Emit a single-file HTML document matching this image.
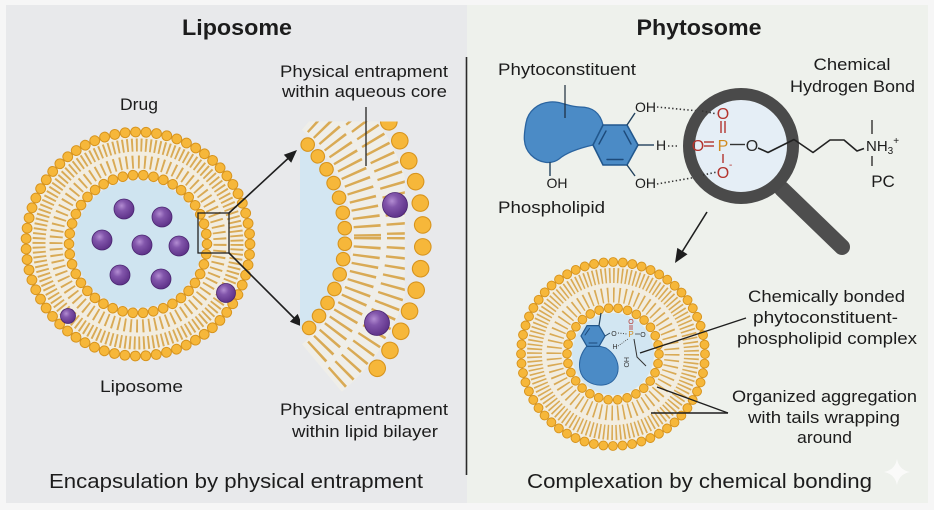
<!DOCTYPE html>
<html><head><meta charset="utf-8"><style>
html,body{margin:0;padding:0;background:#f6f6f6;}
svg{display:block;}
text{font-family:"Liberation Sans",Arial,sans-serif;fill:#1c1c1c;}
</style></head><body>
<svg width="934" height="510" viewBox="0 0 934 510" xmlns="http://www.w3.org/2000/svg">
<defs>
<radialGradient id="pg" cx="0.38" cy="0.34" r="0.72">
<stop offset="0" stop-color="#b38dd2"/>
<stop offset="0.35" stop-color="#8256ab"/>
<stop offset="1" stop-color="#5a2e85"/>
</radialGradient>
<clipPath id="band"><rect x="250" y="121.5" width="200" height="270"/></clipPath>
<clipPath id="wedge"><path d="M212,237 L404.8,7.2 L404.8,466.8 Z"/></clipPath>
</defs>

<!-- backgrounds -->
<rect x="0" y="0" width="934" height="510" fill="#f6f6f6"/>
<rect x="6" y="5" width="461" height="498" fill="#e8e9eb"/>
<rect x="467" y="5" width="461" height="498" fill="#eef1ec"/>
<line x1="466.5" y1="57" x2="466.5" y2="475" stroke="#2a2a2a" stroke-width="1.6"/>

<!-- titles -->
<text x="237" y="35" font-size="22" font-weight="bold" text-anchor="middle" textLength="110" lengthAdjust="spacingAndGlyphs">Liposome</text>
<text x="699" y="35" font-size="22" font-weight="bold" text-anchor="middle" textLength="125" lengthAdjust="spacingAndGlyphs">Phytosome</text>

<!-- ===== Main liposome ===== -->
<g>
<circle cx="138" cy="244" r="90.5" fill="none" stroke="#f2ede0" stroke-width="43"/>
<circle cx="138" cy="244" r="99" fill="none" stroke="#d9aa55" stroke-width="13" stroke-dasharray="1.9 2.742"/>
<circle cx="138" cy="244" r="82" fill="none" stroke="#d9aa55" stroke-width="13" stroke-dasharray="1.9 4.23"/>
<circle cx="138" cy="244" r="64" fill="#cfe4f0"/>
<circle cx="138" cy="244" r="112" fill="none" stroke="#d7941e" stroke-width="10.8" stroke-linecap="round" stroke-dasharray="0.01 10.493"/>
<circle cx="138" cy="244" r="112" fill="none" stroke="#f6b73a" stroke-width="8.8" stroke-linecap="round" stroke-dasharray="0.01 10.493"/>
<circle cx="138" cy="244" r="69" fill="none" stroke="#d7941e" stroke-width="10.6" stroke-linecap="round" stroke-dasharray="0.01 10.313"/>
<circle cx="138" cy="244" r="69" fill="none" stroke="#f6b73a" stroke-width="8.6" stroke-linecap="round" stroke-dasharray="0.01 10.313"/>
<g fill="url(#pg)" stroke="#4a2570" stroke-width="0.8">
<circle cx="124" cy="209" r="10"/>
<circle cx="162" cy="217" r="10"/>
<circle cx="102" cy="240" r="10"/>
<circle cx="142" cy="245" r="10"/>
<circle cx="179" cy="246" r="10"/>
<circle cx="120" cy="275" r="10"/>
<circle cx="161" cy="279" r="10"/>
<circle cx="226" cy="293" r="9.5"/>
<circle cx="68" cy="316" r="7.5"/>
</g>
<rect x="198" y="213" width="31" height="40" fill="none" stroke="#222" stroke-width="1.3"/>
</g>

<!-- arrows -->
<line x1="229" y1="213" x2="288" y2="158.5" stroke="#1e1e1e" stroke-width="1.6"/>
<polygon points="297,150 291.2,162.8 283.8,154.8" fill="#1e1e1e"/>
<line x1="229" y1="253" x2="294" y2="318" stroke="#1e1e1e" stroke-width="1.6"/>
<polygon points="303,327 289.9,321.7 297.7,313.9" fill="#1e1e1e"/>

<!-- ===== Zoomed bilayer ===== -->
<path d="M300,146 L307.7,144.6 A133,133 0 0 1 309.1,327.9 L300,329 Z" fill="#d3e6f2"/>
<g clip-path="url(#band)">
<g clip-path="url(#wedge)">
<circle cx="212" cy="237" r="171" fill="none" stroke="#efeee9" stroke-width="62"/>
<circle cx="212" cy="237" r="155.5" fill="none" stroke="#d9aa55" stroke-width="27" stroke-dasharray="2.5 6.6"/>
<circle cx="212" cy="237" r="188" fill="none" stroke="#d9aa55" stroke-width="26" stroke-dasharray="2.5 7.3"/>
</g>
<path d="M307.7,144.6 A133,133 0 0 1 309.1,327.9" fill="none" stroke="#d7941e" stroke-width="14.6" stroke-linecap="round" stroke-dasharray="0.01 15.54"/>
<path d="M307.7,144.6 A133,133 0 0 1 309.1,327.9" fill="none" stroke="#f6b73a" stroke-width="12.4" stroke-linecap="round" stroke-dasharray="0.01 15.54"/>
<path d="M388.8,121.8 A211,211 0 0 1 362.8,384.6" fill="none" stroke="#d7941e" stroke-width="17.6" stroke-linecap="round" stroke-dasharray="0.01 21.94"/>
<path d="M388.8,121.8 A211,211 0 0 1 362.8,384.6" fill="none" stroke="#f6b73a" stroke-width="15.4" stroke-linecap="round" stroke-dasharray="0.01 21.94"/>
</g>
<g fill="url(#pg)" stroke="#4a2570" stroke-width="0.8">
<circle cx="395" cy="205" r="12.5"/>
<circle cx="377" cy="323" r="12.5"/>
</g>
<line x1="366" y1="107" x2="366" y2="166" stroke="#222" stroke-width="1.3"/>

<!-- left labels -->
<text x="139" y="110" font-size="17" text-anchor="middle" textLength="38" lengthAdjust="spacingAndGlyphs">Drug</text>
<text x="364" y="77" font-size="17" text-anchor="middle" textLength="168" lengthAdjust="spacingAndGlyphs">Physical entrapment</text>
<text x="364.5" y="97" font-size="17" text-anchor="middle" textLength="165" lengthAdjust="spacingAndGlyphs">within aqueous core</text>
<text x="141.5" y="392" font-size="17" text-anchor="middle" textLength="83" lengthAdjust="spacingAndGlyphs">Liposome</text>
<text x="364" y="415" font-size="17" text-anchor="middle" textLength="168" lengthAdjust="spacingAndGlyphs">Physical entrapment</text>
<text x="365" y="437" font-size="17" text-anchor="middle" textLength="146" lengthAdjust="spacingAndGlyphs">within lipid bilayer</text>
<text x="236" y="488" font-size="20.5" text-anchor="middle" textLength="374" lengthAdjust="spacingAndGlyphs">Encapsulation by physical entrapment</text>

<!-- ===== Phytoconstituent molecule ===== -->
<path d="M603,125 C600,112 592,107 580,107 C568,107 561,101 550,102 C538,103 528,111 526,123 C524,134 522,146 531,155 C539,163 551,165 559,159 C567,152 580,148 593,145 Z" fill="#4b8bc6" stroke="#2a64a0" stroke-width="1.3"/>
<line x1="565" y1="85" x2="565" y2="118" stroke="#1a2a3a" stroke-width="1.2"/>
<polygon points="593,145 603,125 627,125 638,145 627,165 603,165" fill="#4b8bc6" stroke="#22588e" stroke-width="1.6"/>
<g stroke="#1d4a7a" stroke-width="1.4" stroke-linecap="round">
<line x1="599" y1="144" x2="606" y2="131"/>
<line x1="624" y1="131" x2="631" y2="144"/>
<line x1="607" y1="159.5" x2="623" y2="159.5"/>
</g>
<g stroke="#22425e" stroke-width="1.4">
<line x1="627" y1="125" x2="635" y2="113"/>
<line x1="638" y1="145" x2="654" y2="145"/>
<line x1="627" y1="165" x2="635" y2="176"/>
<line x1="550" y1="162" x2="550" y2="176"/>
</g>
<text x="645.5" y="112" font-size="14" text-anchor="middle" textLength="21" lengthAdjust="spacingAndGlyphs">OH</text>
<text x="661" y="150" font-size="14" text-anchor="middle">H</text>
<text x="645.5" y="188" font-size="14" text-anchor="middle" textLength="21" lengthAdjust="spacingAndGlyphs">OH</text>
<text x="557" y="188" font-size="14" text-anchor="middle" textLength="21" lengthAdjust="spacingAndGlyphs">OH</text>
<g stroke="#333" stroke-width="1.6" stroke-dasharray="1.4 2.4" fill="none">
<line x1="657" y1="107" x2="720" y2="113"/>
<line x1="668" y1="146" x2="678" y2="146"/>
<line x1="657" y1="184" x2="720" y2="173"/>
</g>
<text x="498" y="75" font-size="17" textLength="138" lengthAdjust="spacingAndGlyphs">Phytoconstituent</text>
<text x="498" y="213" font-size="17" textLength="107" lengthAdjust="spacingAndGlyphs">Phospholipid</text>

<!-- magnifier -->
<line x1="782" y1="189" x2="842" y2="247" stroke="#4e4e4e" stroke-width="16" stroke-linecap="round"/>
<circle cx="741" cy="146" r="46" fill="#e5eef6"/>
<circle cx="741" cy="146" r="52" fill="none" stroke="#4a4a4a" stroke-width="12"/>
<g stroke="#333" stroke-width="1.6" stroke-dasharray="1.4 2.4" fill="none">
<line x1="702" y1="111" x2="717" y2="114"/>
<line x1="703" y1="175" x2="717" y2="172"/>
</g>
<text x="723" y="119" font-size="16" text-anchor="middle" style="fill:#b3332e">O</text>
<g stroke="#b3332e" stroke-width="1.4">
<line x1="721" y1="121" x2="721" y2="133"/>
<line x1="725" y1="121" x2="725" y2="133"/>
<line x1="704" y1="142" x2="714" y2="142"/>
<line x1="704" y1="146" x2="714" y2="146"/>
</g>
<text x="698" y="151" font-size="16" text-anchor="middle" style="fill:#b3332e">O</text>
<text x="723" y="151" font-size="16" text-anchor="middle" style="fill:#d08a1e">P</text>
<line x1="730" y1="144.5" x2="745" y2="144.5" stroke="#333" stroke-width="1.4"/>
<text x="752" y="151" font-size="16" text-anchor="middle" style="fill:#2a2a2a">O</text>
<line x1="723" y1="154" x2="723" y2="163" stroke="#b3332e" stroke-width="1.4"/>
<text x="723" y="178" font-size="16" text-anchor="middle" style="fill:#b3332e">O</text>
<text x="729" y="168" font-size="10" style="fill:#b3332e">-</text>
<polyline points="758,148 768,152.5 794,139.5 813,152.5 830,140 844,140 857,151 864,148.5" fill="none" stroke="#222" stroke-width="1.6" stroke-linejoin="round"/>
<line x1="872" y1="120" x2="872" y2="134" stroke="#222" stroke-width="1.3"/>
<line x1="872" y1="156" x2="872" y2="166" stroke="#222" stroke-width="1.3"/>
<text x="866" y="151" font-size="15">NH<tspan font-size="10" dy="3">3</tspan><tspan font-size="10" dy="-10">+</tspan></text>
<text x="883" y="187" font-size="17" text-anchor="middle">PC</text>
<text x="852" y="70" font-size="17" text-anchor="middle" textLength="77" lengthAdjust="spacingAndGlyphs">Chemical</text>
<text x="852.5" y="92" font-size="17" text-anchor="middle" textLength="125" lengthAdjust="spacingAndGlyphs">Hydrogen Bond</text>

<!-- arrow down -->
<line x1="707" y1="212" x2="682" y2="252" stroke="#1e1e1e" stroke-width="1.6"/>
<polygon points="675,263 687.5,254.3 677.3,247.9" fill="#1e1e1e"/>

<!-- ===== Phytosome ===== -->
<g>
<circle cx="613" cy="354" r="69" fill="none" stroke="#f2ede0" stroke-width="46"/>
<circle cx="613" cy="354" r="78.5" fill="none" stroke="#d9aa55" stroke-width="15" stroke-dasharray="1.6 2.51"/>
<circle cx="613" cy="354" r="59" fill="none" stroke="#d9aa55" stroke-width="15" stroke-dasharray="1.6 4.19"/>
<circle cx="613" cy="354" r="41" fill="#d2e6f2"/>
<circle cx="613" cy="354" r="92" fill="none" stroke="#d7941e" stroke-width="9.8" stroke-linecap="round" stroke-dasharray="0.01 9.624"/>
<circle cx="613" cy="354" r="92" fill="none" stroke="#f6b73a" stroke-width="7.9" stroke-linecap="round" stroke-dasharray="0.01 9.624"/>
<circle cx="613" cy="354" r="46" fill="none" stroke="#d7941e" stroke-width="9.6" stroke-linecap="round" stroke-dasharray="0.01 9.624"/>
<circle cx="613" cy="354" r="46" fill="none" stroke="#f6b73a" stroke-width="7.7" stroke-linecap="round" stroke-dasharray="0.01 9.624"/>
</g>
<!-- small complex -->
<path d="M587,346 C582,352 578,360 580,370 C582,380 592,386 603,385 C613,384 619,376 618,366 C617,358 612,352 606,348 L599,346 Z" fill="#4b8bc6" stroke="#2a64a0" stroke-width="1"/>
<polygon points="581,336 587,325.6 599,325.6 605,336 599,346.4 587,346.4" fill="#4b8bc6" stroke="#22588e" stroke-width="1.2"/>
<g stroke="#1d4a7a" stroke-width="1" stroke-linecap="round">
<line x1="585" y1="335" x2="589.5" y2="328.5"/>
<line x1="589" y1="343" x2="597" y2="343"/>
</g>
<line x1="599" y1="325.6" x2="601" y2="313" stroke="#22425e" stroke-width="1.2"/>
<line x1="605" y1="336" x2="610" y2="333" stroke="#22425e" stroke-width="1"/>
<text x="614" y="336" font-size="7" text-anchor="middle" style="fill:#333">O</text>
<line x1="618" y1="333" x2="627" y2="334" stroke="#444" stroke-width="1" stroke-dasharray="1 1.5"/>
<text x="631" y="337" font-size="8" text-anchor="middle" style="fill:#d08a1e">P</text>
<text x="631" y="324" font-size="7" text-anchor="middle" style="fill:#b3332e">O</text>
<line x1="630" y1="325" x2="630" y2="330" stroke="#b3332e" stroke-width="0.8"/>
<line x1="632" y1="325" x2="632" y2="330" stroke="#b3332e" stroke-width="0.8"/>
<line x1="635" y1="334" x2="640" y2="334" stroke="#444" stroke-width="0.8"/>
<text x="643" y="337" font-size="7" text-anchor="middle" style="fill:#333">O</text>
<text x="615" y="349" font-size="7" text-anchor="middle" style="fill:#333">H</text>
<line x1="618" y1="346" x2="628" y2="339" stroke="#444" stroke-width="0.8" stroke-dasharray="1 1.2"/>
<text x="624" y="357" font-size="7" transform="rotate(90 624 357)" style="fill:#333">HO</text>
<polyline points="634,339 637,357 646,366" fill="none" stroke="#333" stroke-width="1"/>

<!-- label lines -->
<line x1="746" y1="318" x2="640" y2="353" stroke="#1e1e1e" stroke-width="1.4"/>
<line x1="728" y1="413" x2="657" y2="387" stroke="#1e1e1e" stroke-width="1.4"/>
<line x1="728" y1="413" x2="651" y2="413" stroke="#1e1e1e" stroke-width="1.4"/>

<text x="826.5" y="302" font-size="17" text-anchor="middle" textLength="157" lengthAdjust="spacingAndGlyphs">Chemically bonded</text>
<text x="825.5" y="323" font-size="17" text-anchor="middle" textLength="145" lengthAdjust="spacingAndGlyphs">phytoconstituent-</text>
<text x="827" y="344" font-size="17" text-anchor="middle" textLength="180" lengthAdjust="spacingAndGlyphs">phospholipid complex</text>
<text x="824.5" y="402" font-size="17" text-anchor="middle" textLength="185" lengthAdjust="spacingAndGlyphs">Organized aggregation</text>
<text x="824" y="423" font-size="17" text-anchor="middle" textLength="152" lengthAdjust="spacingAndGlyphs">with tails wrapping</text>
<text x="824.5" y="443" font-size="17" text-anchor="middle" textLength="55" lengthAdjust="spacingAndGlyphs">around</text>
<text x="699.5" y="488" font-size="20.5" text-anchor="middle" textLength="345" lengthAdjust="spacingAndGlyphs">Complexation by chemical bonding</text>

<!-- sparkle -->
<path d="M897,459 Q899,470 910,472 Q899,474 897,485 Q895,474 884,472 Q895,470 897,459 Z" fill="#fbfbfb" opacity="0.85"/>
</svg>
</body></html>
